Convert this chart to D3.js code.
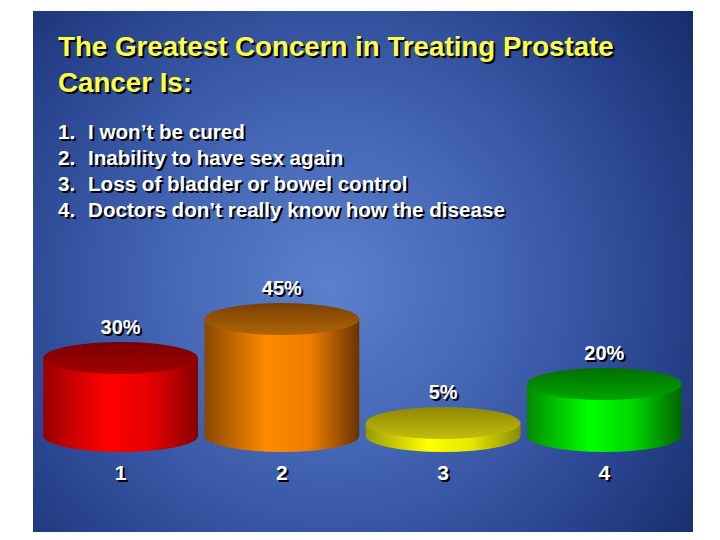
<!DOCTYPE html>
<html><head><meta charset="utf-8">
<script src="https://cdn.jsdelivr.net/npm/d3@7"></script>
<style>html,body{margin:0;padding:0;background:#fff;}svg{display:block;}</style>
</head><body>
<script>
const titleLines = ["The Greatest Concern in Treating Prostate", "Cancer Is:"];
const itemNumbers = ["1.", "2.", "3.", "4."];
const itemTexts = ["I won\u2019t be cured", "Inability to have sex again", "Loss of bladder or bowel control", "Doctors don\u2019t really know how the disease"];
const categories = ["1", "2", "3", "4"];
const values = [30, 45, 5, 20];

const palettes = [
  {body:["#9a0000","#ff0000","#e80000","#880000"], top:["#7a0000","#a40000"]},
  {body:["#8a4800","#ff8a00","#f07e00","#663400"], top:["#7a4000","#b06408"]},
  {body:["#9a9a00","#ffff00","#e8e800","#8a8a00"], top:["#8e8800","#c4bc10"]},
  {body:["#008a00","#00ff00","#00d800","#006400"], top:["#007000","#00a400"]}
];

const W = 720, H = 540;
const svg = d3.select("body").append("svg").attr("width", W).attr("height", H);
const defs = svg.append("defs");

const bg = defs.append("radialGradient").attr("id","bg").attr("gradientUnits","userSpaceOnUse")
  .attr("cx",330).attr("cy",285).attr("r",470);
[[0,"#5c80cc"],[0.35,"#4466b4"],[0.7,"#2a4590"],[1,"#132a66"]].forEach(s=>bg.append("stop").attr("offset",s[0]).attr("stop-color",s[1]));

svg.append("rect").attr("x",33).attr("y",11).attr("width",660).attr("height",521).attr("fill","url(#bg)");

function shadowText(g, x, y, txt, size, color, anchor, targetW) {
  const grp = g.append("g");
  const mk = (dx, dy, fill) => grp.append("text").attr("x", x+dx).attr("y", y+dy)
    .attr("font-family","Liberation Sans, Arial, sans-serif").attr("font-weight","bold")
    .attr("font-size", size).attr("fill", fill).attr("text-anchor", anchor||"start").text(txt);
  const sh = mk(2, 2, "#000");
  const fg = mk(0, 0, color);
  if (targetW) {
    const w = fg.node().getComputedTextLength();
    const ns = size * targetW / w;
    sh.attr("font-size", ns); fg.attr("font-size", ns);
  }
  return grp;
}

// Title
const tg = svg.append("g");
shadowText(tg, 58, 56, titleLines[0], 25, "#ffff48", "start", 556);
const t1size = +tg.select("text").attr("font-size");
shadowText(tg, 58, 92, titleLines[1], t1size, "#ffff48", "start");

// List
const lg = svg.append("g");
let lsize = 19;
{
  const tmp = shadowText(lg, 88, 217, itemTexts[3], 19, "#fff", "start", 417);
  lsize = +tmp.select("text").attr("font-size");
  tmp.remove();
}
itemTexts.forEach((t, i) => {
  const y = 139 + i * 26;
  shadowText(lg, 58, y, itemNumbers[i], lsize, "#fff", "start");
  shadowText(lg, 88, y, t, lsize, "#fff", "start");
});

// Scales
const x = d3.scaleBand().domain(categories).range([40, 685]).paddingInner(0.04).paddingOuter(0.02);
const yBase = 436;
const h = d3.scaleLinear().domain([0, 45]).range([0, 117]);
const ry = 16;

palettes.forEach((p, i) => {
  const gb = defs.append("linearGradient").attr("id","body"+i).attr("x1",0).attr("x2",1).attr("y1",0).attr("y2",0);
  [[0,p.body[0]],[0.4,p.body[1]],[0.68,p.body[2]],[1,p.body[3]]].forEach(s=>gb.append("stop").attr("offset",s[0]).attr("stop-color",s[1]));
  const gt = defs.append("linearGradient").attr("id","top"+i).attr("x1",0).attr("x2",0).attr("y1",0).attr("y2",1);
  [[0,p.top[0]],[1,p.top[1]]].forEach(s=>gt.append("stop").attr("offset",s[0]).attr("stop-color",s[1]));
});

const cg = svg.append("g");
categories.forEach((c, i) => {
  const x0 = x(c), bw = x.bandwidth(), x1 = x0 + bw, rx = bw / 2, cx = x0 + rx;
  const yTop = yBase - h(values[i]);
  cg.append("path")
    .attr("d", `M${x0},${yTop} L${x0},${yBase} A${rx},${ry} 0 0 0 ${x1},${yBase} L${x1},${yTop} Z`)
    .attr("fill", `url(#body${i})`);
  cg.append("ellipse").attr("cx", cx).attr("cy", yTop).attr("rx", rx).attr("ry", ry)
    .attr("fill", `url(#top${i})`);
  shadowText(cg, cx, yTop - ry - 8, values[i] + "%", 20, "#fff", "middle");
  shadowText(cg, cx, 480, c, 21, "#fff", "middle");
});
</script>
</body></html>
